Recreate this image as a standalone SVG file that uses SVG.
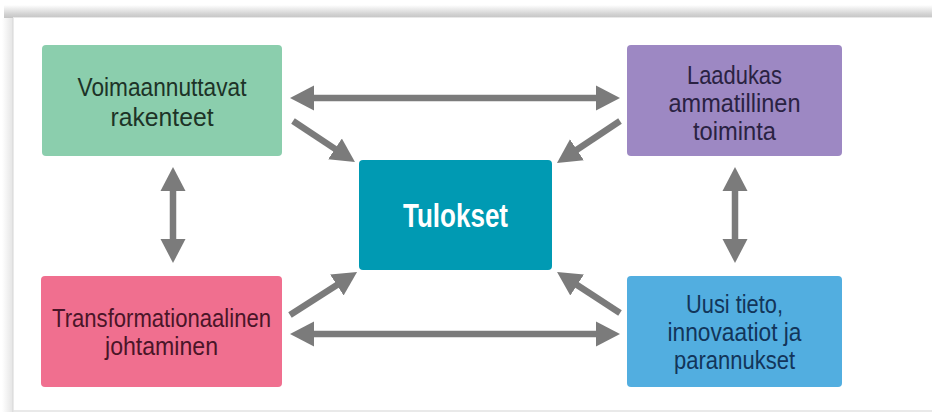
<svg xmlns="http://www.w3.org/2000/svg" width="932" height="412" viewBox="0 0 932 412">
<defs>
<linearGradient id="topShadow" x1="0" y1="0" x2="0" y2="1">
<stop offset="0" stop-color="#ffffff"/>
<stop offset="0.7" stop-color="#d2d2d2"/>
<stop offset="1" stop-color="#c4c4c4"/>
</linearGradient>
<linearGradient id="leftShadow" x1="0" y1="0" x2="1" y2="0">
<stop offset="0" stop-color="#ffffff"/>
<stop offset="1" stop-color="#e4e4e4"/>
</linearGradient>
<marker id="head" markerUnits="userSpaceOnUse" markerWidth="26" markerHeight="26" refX="1" refY="12.5" orient="auto-start-reverse" viewBox="0 0 26 25">
<path d="M0,0 L24,12.5 L0,25 z" fill="#7b7b7b"/>
</marker>
</defs>
<style>
.box{stroke:none}
.t{font-family:"Liberation Sans Narrow","Liberation Sans",Arial,sans-serif;font-size:26px;text-anchor:middle}
.big{font-family:"Liberation Sans Narrow","Liberation Sans",Arial,sans-serif;font-size:34px;font-weight:bold;fill:#ffffff;text-anchor:middle}
.conn line{stroke:#7b7b7b;stroke-width:6.5;marker-end:url(#head)}
.conn line.both{marker-start:url(#head)}
</style>
<rect x="0" y="0" width="932" height="412" fill="#ffffff"/>
<rect x="4" y="5" width="928" height="13" fill="url(#topShadow)"/>
<rect x="2" y="18" width="11" height="394" fill="url(#leftShadow)"/>
<line x1="13" y1="18" x2="13" y2="412" stroke="#d6d6d6" stroke-width="1"/>
<line x1="13" y1="17.5" x2="932" y2="17.5" stroke="#e8e8e8" stroke-width="1"/>
<line x1="13" y1="411" x2="932" y2="411" stroke="#e2e2e2" stroke-width="1.5"/>

<g id="conn" class="conn">
<line class="both" x1="313" y1="98" x2="597" y2="98"/>
<line class="both" x1="313" y1="334" x2="597" y2="334"/>
<line class="both" x1="173" y1="190" x2="173" y2="240"/>
<line class="both" x1="735" y1="190" x2="735" y2="240"/>
<line x1="293" y1="121" x2="335.8" y2="149.4"/>
<line x1="620" y1="121" x2="576.1" y2="150.3"/>
<line x1="290" y1="315" x2="337.7" y2="284.4"/>
<line x1="620" y1="313" x2="576.3" y2="284.5"/>
</g>

<g id="voimaannuttavat">
<rect class="box" x="42" y="45" width="240" height="111" rx="4" fill="#8BCEAD"/>
<text class="t" fill="#1D3327" x="162" y="96" textLength="169" lengthAdjust="spacingAndGlyphs">Voimaannuttavat</text>
<text class="t" fill="#1D3327" x="162" y="126" textLength="103" lengthAdjust="spacingAndGlyphs">rakenteet</text>
</g>

<g id="laadukas">
<rect class="box" x="627" y="45" width="215" height="111" rx="4" fill="#9D88C3"/>
<text class="t" fill="#2A2242" x="734.5" y="84" textLength="95" lengthAdjust="spacingAndGlyphs">Laadukas</text>
<text class="t" fill="#2A2242" x="734.5" y="112" textLength="132" lengthAdjust="spacingAndGlyphs">ammatillinen</text>
<text class="t" fill="#2A2242" x="734.5" y="140" textLength="83" lengthAdjust="spacingAndGlyphs">toiminta</text>
</g>

<g id="tulokset">
<rect class="box" x="359" y="160" width="193" height="110" rx="4" fill="#009AB3"/>
<text class="big" x="455.5" y="227" textLength="105" lengthAdjust="spacingAndGlyphs">Tulokset</text>
</g>

<g id="transformationaalinen">
<rect class="box" x="41" y="276" width="241" height="111" rx="4" fill="#F06F8F"/>
<text class="t" fill="#4A1528" x="161.5" y="327" textLength="219" lengthAdjust="spacingAndGlyphs">Transformationaalinen</text>
<text class="t" fill="#4A1528" x="161.5" y="355" textLength="113" lengthAdjust="spacingAndGlyphs">johtaminen</text>
</g>

<g id="uusitieto">
<rect class="box" x="627" y="276" width="215" height="111" rx="4" fill="#52AEE0"/>
<text class="t" fill="#12355A" x="734.5" y="313" textLength="97" lengthAdjust="spacingAndGlyphs">Uusi tieto,</text>
<text class="t" fill="#12355A" x="734.5" y="341" textLength="134" lengthAdjust="spacingAndGlyphs">innovaatiot ja</text>
<text class="t" fill="#12355A" x="734.5" y="369" textLength="121" lengthAdjust="spacingAndGlyphs">parannukset</text>
</g>
</svg>
